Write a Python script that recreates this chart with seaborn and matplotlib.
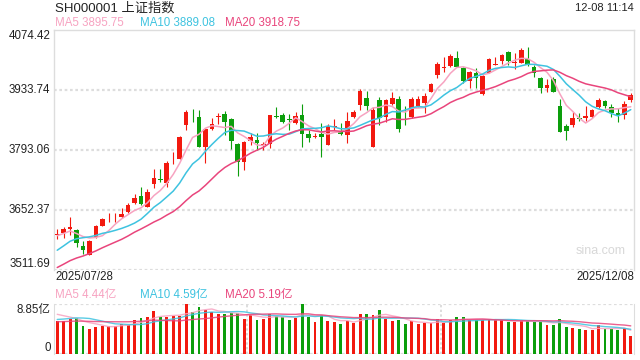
import numpy as np
import pandas as pd
import seaborn as sns
import matplotlib.pyplot as plt

# === Data ===

# daily candles 2025/07/28 .. 2025/12/08 (index points)
opens = [3595.3, 3597.7, 3607.0, 3605.5, 3567.9, 3546.8, 3588.3, 3615.7, 3633.6, 3633.6,
         3635.2, 3648.5, 3669.6, 3686.0, 3660.2, 3713.3, 3725.8, 3716.5, 3769.6, 3772.7,
         3850.9, 3872.0, 3869.6, 3799.3, 3842.3, 3872.0, 3876.7, 3865.7, 3807.1, 3764.1,
         3814.9, 3816.5, 3806.3, 3807.1, 3873.5, 3875.1, 3865.7, 3855.6, 3875.1, 3830.6,
         3825.1, 3830.6, 3805.6, 3848.5, 3836.1, 3828.2, 3871.2, 3898.6, 3914.2, 3800.9,
         3910.3, 3869.6, 3900.9, 3911.8, 3878.3, 3871.2, 3897.0, 3902.5, 3929.8, 3968.9,
         3986.1, 3990.0, 4008.0, 3984.5, 3955.6, 3972.8, 3923.6, 3974.4, 3993.9, 4002.5,
         4022.1, 3997.8, 3997.8, 4005.6, 3986.9, 3961.1, 3939.2, 3958.7, 3896.2, 3849.3,
         3851.7, 3868.1, 3868.9, 3871.2, 3894.7, 3907.9, 3893.1, 3879.0, 3875.1, 3910.3]
highs = [3607.8, 3611.7, 3635.2, 3607.0, 3580.5, 3582.0, 3617.2, 3634.4, 3644.5, 3644.5,
         3656.3, 3668.0, 3689.9, 3705.5, 3701.6, 3747.7, 3747.7, 3768.1, 3787.6, 3825.9,
         3886.8, 3888.4, 3886.8, 3843.9, 3867.3, 3879.0, 3885.3, 3867.3, 3808.7, 3813.4,
         3832.1, 3832.1, 3812.6, 3875.1, 3893.1, 3879.0, 3877.5, 3882.9, 3900.9, 3840.0,
         3832.1, 3855.6, 3854.0, 3865.0, 3855.6, 3882.9, 3886.8, 3936.1, 3932.2, 3893.1,
         3918.1, 3912.6, 3929.8, 3920.5, 3896.2, 3918.1, 3919.7, 3927.5, 3950.9, 3999.4,
         4010.3, 4017.4, 4026.0, 3988.4, 3979.1, 3986.1, 3968.9, 4008.0, 4010.3, 4018.1,
         4026.0, 4021.3, 4031.4, 4033.8, 3992.3, 3965.0, 3958.7, 3965.0, 3911.8, 3853.2,
         3882.9, 3879.0, 3896.2, 3888.4, 3914.2, 3910.3, 3900.9, 3890.7, 3908.0, 3927.5]
lows = [3583.6, 3585.9, 3593.8, 3564.8, 3549.2, 3546.0, 3585.9, 3614.9, 3625.0, 3625.0,
        3632.8, 3646.1, 3666.4, 3664.1, 3660.2, 3703.2, 3718.8, 3705.5, 3760.2, 3771.0,
        3840.0, 3859.5, 3800.0, 3761.8, 3840.0, 3854.0, 3828.2, 3796.2, 3732.9, 3746.2,
        3804.8, 3793.1, 3793.1, 3797.0, 3867.3, 3857.1, 3840.0, 3854.0, 3800.9, 3812.6,
        3820.4, 3775.9, 3805.0, 3840.0, 3828.2, 3810.3, 3867.3, 3886.8, 3886.8, 3800.0,
        3851.7, 3859.5, 3898.6, 3836.1, 3851.7, 3867.3, 3893.1, 3879.0, 3929.0, 3962.7,
        3976.7, 3988.4, 3986.9, 3950.9, 3937.6, 3939.2, 3923.0, 3972.8, 3992.3, 3993.9,
        3991.6, 3982.2, 3996.3, 3990.0, 3965.0, 3927.5, 3929.8, 3928.3, 3835.0, 3816.5,
        3846.2, 3861.8, 3861.8, 3867.3, 3890.7, 3890.7, 3869.6, 3859.5, 3865.0, 3906.4]
closes = [3596.9, 3607.8, 3611.7, 3575.8, 3558.6, 3579.7, 3614.9, 3631.3, 3635.2, 3634.5,
          3643.0, 3664.1, 3679.7, 3666.4, 3693.8, 3726.6, 3724.3, 3763.4, 3771.2, 3824.3,
          3882.9, 3870.4, 3800.9, 3842.3, 3853.2, 3873.5, 3858.7, 3814.9, 3765.7, 3811.8,
          3822.7, 3808.7, 3807.9, 3875.1, 3872.0, 3859.5, 3864.2, 3872.8, 3830.6, 3821.2,
          3826.7, 3822.7, 3850.1, 3850.1, 3829.8, 3861.1, 3882.9, 3932.2, 3896.2, 3886.8,
          3867.3, 3910.3, 3914.2, 3841.5, 3876.7, 3911.8, 3912.6, 3919.7, 3947.8, 3995.5,
          3987.7, 4013.5, 3988.4, 3955.6, 3975.2, 3961.1, 3966.6, 4005.6, 3995.5, 4015.8,
          4001.7, 3999.4, 4027.5, 3991.6, 3972.8, 3939.2, 3945.5, 3929.8, 3836.1, 3838.4,
          3867.3, 3866.5, 3873.5, 3886.8, 3910.3, 3897.0, 3879.0, 3874.3, 3900.9, 3921.2]
# volume, 亿
volumes = [5.84, 5.84, 6.20, 6.31, 4.96, 4.43, 4.78, 5.01, 5.01, 5.01,
           5.31, 5.19, 6.02, 6.43, 6.55, 7.61, 6.61, 6.55, 6.79, 6.79,
           8.85, 7.50, 8.38, 7.70, 7.40, 7.10, 7.10, 7.20, 7.20, 6.20,
           6.90, 6.10, 6.20, 7.10, 6.80, 6.50, 6.10, 6.40, 8.80, 6.60,
           5.70, 6.90, 5.84, 5.72, 5.31, 5.84, 5.55, 7.08, 7.08, 6.90,
           7.79, 6.20, 5.84, 6.02, 5.31, 5.84, 5.31, 5.55, 5.43, 6.13,
           5.55, 6.02, 6.55, 6.55, 6.02, 6.02, 6.02, 6.13, 6.02, 6.02,
           5.72, 5.72, 5.84, 5.84, 5.72, 5.72, 5.13, 5.13, 6.20, 4.84,
           4.66, 4.43, 4.25, 4.25, 5.13, 4.43, 4.49, 4.25, 4.66, 3.19]

# sessions before the visible window, only feed the moving averages
prior_closes = [3449.8, 3446.8, 3453.2, 3464.3, 3465.1, 3489.5, 3485.1, 3501.7, 3502.2, 3511.7,
                3505.0, 3503.8, 3516.8, 3534.5, 3559.8, 3581.9, 3582.3, 3605.7, 3593.7]
prior_volumes = [5.3, 5.2, 5.4, 5.3, 5.2, 5.4, 5.3, 5.3, 5.2, 5.4,
                 5.1, 5.2, 5.3, 5.2, 5.2, 7.1, 7.4, 7.6, 7.2]

start_date = "2025/07/28"
end_date = "2025/12/08"
price_ticks = [3511.69, 3652.37, 3793.06, 3933.74, 4074.42]
vol_max = 8.85
title = "SH000001 上证指数"
timestamp = "12-08 11:14"
price_legend = ["MA5 3895.75", "MA10 3889.08", "MA20 3918.75"]
vol_legend = ["MA5 4.44亿", "MA10 4.59亿", "MA20 5.19亿"]

RED, GREEN = "#f2190f", "#0c9e0c"
MA_COLORS = ["#f7a3c1", "#3ec3e0", "#e9457c"]
GRID = "#dddddd"

# === Build frame + moving averages ===

n = len(closes)
df = pd.DataFrame({"i": np.arange(n), "open": opens, "high": highs,
                   "low": lows, "close": closes, "volume": volumes})
all_close = pd.Series(prior_closes + closes)
all_vol = pd.Series(prior_volumes + volumes)
for w in (5, 10, 20):
    df[f"ma{w}"] = all_close.rolling(w).mean().iloc[-n:].values
    df[f"vma{w}"] = all_vol.rolling(w).mean().iloc[-n:].values
df["up"] = df["close"] >= df["open"]
colors = np.where(df["up"], RED, GREEN)

# === Plot ===

sns.set_style("white")
plt.rcParams["font.family"] = ["Liberation Sans", "Noto Sans CJK SC", "DejaVu Sans"]

fig = plt.figure(figsize=(6.4, 3.6), dpi=100)
ax = fig.add_axes([54 / 640, 90 / 360, 580 / 640, 240 / 360])
axv = fig.add_axes([54 / 640, 6 / 360, 580 / 640, 50 / 360])

dot = (0, (1.2, 1.2))

# candles
ax.vlines(df["i"], df["low"], df["high"], color=colors, lw=0.8, zorder=2)
body = np.maximum((df["close"] - df["open"]).abs(), 1.6)
ax.bar(df["i"], body, bottom=np.minimum(df["open"], df["close"]) - (body == 1.6) * 0.8,
       width=0.74, color=colors, linewidth=0, zorder=3)
for w, c in zip((5, 10, 20), MA_COLORS):
    sns.lineplot(data=df, x="i", y=f"ma{w}", ax=ax, color=c, lw=1.1, zorder=4)

ax.set_xlim(-0.5, n - 0.5)
ax.set_ylim(price_ticks[0], price_ticks[-1])
ax.set_xticks([])
ax.set_yticks([])
ax.set_xlabel("")
ax.set_ylabel("")
for t in price_ticks[:-1]:
    ax.axhline(t, color=GRID, lw=1.6, ls=dot, zorder=0)
for s in ("top", "left", "right"):
    ax.spines[s].set_color(GRID)
    ax.spines[s].set_linewidth(1.0)
ax.spines["bottom"].set_visible(False)

ytf = ax.get_yaxis_transform()
for k, t in enumerate(price_ticks):
    va = "bottom" if k == 0 else ("top" if k == len(price_ticks) - 1 else "center")
    ax.text(-0.006, t, f"{t:.2f}", transform=ytf, ha="right", va=va,
            fontsize=8.3, color="#222222")
ax.text(0.985, 0.08, "sina.com", transform=ax.transAxes, ha="right", va="center",
        fontsize=9, color="#d8d8d8")

# volume
axv.bar(df["i"], df["volume"], width=0.45, color=colors, linewidth=0, zorder=2)
for w, c in zip((5, 10, 20), MA_COLORS):
    sns.lineplot(data=df, x="i", y=f"vma{w}", ax=axv, color=c, lw=1.0, alpha=0.85, zorder=3)
axv.set_xlim(-0.5, n - 0.5)
axv.set_ylim(0, vol_max)
axv.set_xticks([])
axv.set_yticks([])
axv.set_xlabel("")
axv.set_ylabel("")
for s in ("top", "bottom"):
    axv.spines[s].set_visible(False)
for s in ("left", "right"):
    axv.spines[s].set_color(GRID)
axv.axhline(vol_max, color=GRID, lw=1.6, ls=dot, zorder=0)
axv.axhline(0, color=GRID, lw=1.6, ls=dot, zorder=0)
for f in (1 / 3, 2 / 3):
    axv.axvline(-0.5 + n * f, color=GRID, lw=1.4, ls=dot, zorder=0)
yvt = axv.get_yaxis_transform()
axv.text(-0.006, vol_max, f"{vol_max:.2f}亿", transform=yvt, ha="right", va="top",
         fontsize=8.3, color="#222222")
axv.text(-0.006, 0, "0", transform=yvt, ha="right", va="bottom",
         fontsize=8.3, color="#222222")

# header texts
fig.text(55 / 640, 1 - 8 / 360, title, ha="left", va="center", fontsize=9.5, color="#222222")
fig.text(634 / 640, 1 - 8 / 360, timestamp, ha="right", va="center", fontsize=8, color="#222222")
for label, c, x in zip(price_legend, MA_COLORS, (55, 140, 225)):
    fig.text(x / 640, 1 - 23 / 360, label, ha="left", va="center", fontsize=8.3, color=c)
fig.text(55 / 640, 1 - 277 / 360, start_date, ha="left", va="center", fontsize=8.3, color="#222222")
fig.text(634 / 640, 1 - 277 / 360, end_date, ha="right", va="center", fontsize=8.3, color="#222222")
for label, c, x in zip(vol_legend, MA_COLORS, (55, 140, 225)):
    fig.text(x / 640, 1 - 295 / 360, label, ha="left", va="center", fontsize=8.3, color=c)

fig.savefig("out.png", dpi=100)
